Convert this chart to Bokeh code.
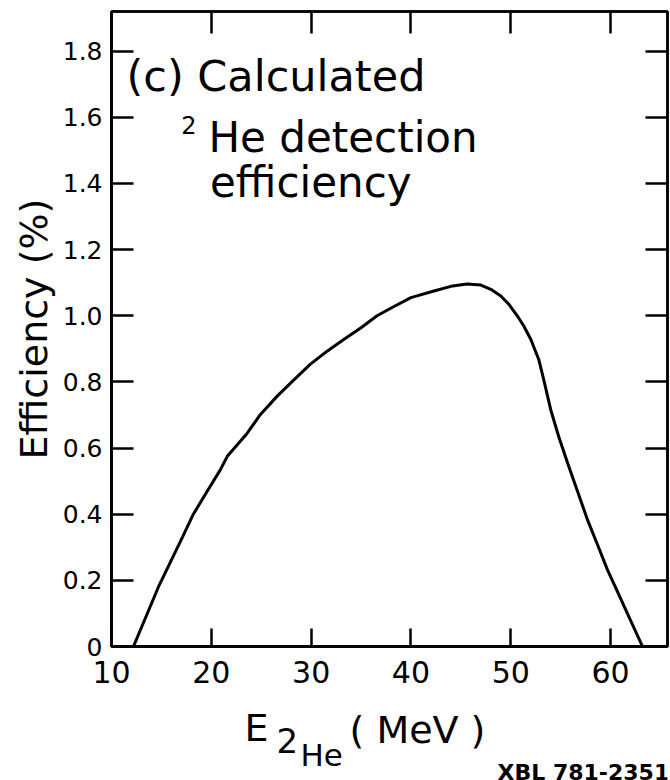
from bokeh.plotting import figure
from bokeh.models import LinearAxis, FixedTicker, Range1d
from bokeh.layouts import column
from bokeh.core.properties import value
from bokeh.embed import file_html
from bokeh.resources import INLINE

# Data
energy_mev = [12.2, 14.7, 17.1, 18.2, 19.6, 20.9, 21.6, 23.6, 24.9, 26.6, 28.3,
              29.9, 31.6, 33.3, 35.0, 36.6, 38.3, 40.0, 40.6, 42.3, 44.0, 45.6,
              47.0, 48.0, 49.0, 49.8, 50.65, 51.3, 52.0, 52.8, 53.3, 54.0, 54.8,
              55.7, 56.7, 57.7, 58.7, 59.7, 60.7, 61.7, 63.2]
efficiency_pct = [0.0, 0.18, 0.33, 0.40, 0.47, 0.534, 0.575, 0.645, 0.701, 0.757,
                  0.807, 0.853, 0.893, 0.929, 0.964, 1.0, 1.028, 1.055, 1.06, 1.075,
                  1.089, 1.096, 1.093, 1.08, 1.06, 1.035, 1.0, 0.969, 0.929, 0.868,
                  0.807, 0.716, 0.635, 0.554, 0.468, 0.382, 0.307, 0.231, 0.165,
                  0.099, 0.0]

x_ticks = [10, 20, 30, 40, 50, 60]
y_ticks = [0, 0.2, 0.4, 0.6, 0.8, 1.0, 1.2, 1.4, 1.6, 1.8]
y_tick_labels = ["0", "0.2", "0.4", "0.6", "0.8", "1.0", "1.2", "1.4", "1.6", "1.8"]

FONT = "DejaVu Sans"
X_RANGE = (10, 65.7)
Y_RANGE = (0, 1.92)
LEFT, RIGHT, TOP, BOTTOM = 111, 3, 11, 54

p = figure(width=670, height=700, output_backend="svg", toolbar_location=None,
           x_range=Range1d(*X_RANGE), y_range=Range1d(*Y_RANGE),
           x_axis_type=None, y_axis_type=None,
           min_border_left=LEFT, min_border_right=RIGHT, min_border_top=TOP,
           min_border_bottom=BOTTOM)
p.grid.visible = False
p.background_fill_color = "white"
p.border_fill_color = "white"
p.outline_line_color = "black"
p.outline_line_width = 2.5


def tick_axis(ticks, length):
    """Axis that only draws inward ticks along the frame edge."""
    ax = LinearAxis(ticker=FixedTicker(ticks=ticks))
    ax.major_tick_in = length
    ax.major_tick_out = 0
    ax.minor_tick_line_color = None
    ax.major_tick_line_width = 2.5
    ax.major_tick_line_color = "black"
    ax.axis_line_color = "black"
    ax.axis_line_width = 2.5
    ax.major_label_overrides = {t: "" for t in ticks}
    ax.major_label_text_font_size = "1px"
    ax.major_label_standoff = 0
    ax.axis_label_standoff = 0
    return ax


def label_axis(ticks, size, standoff, overrides=None):
    """Axis that carries the tick labels."""
    ax = LinearAxis(ticker=FixedTicker(ticks=ticks))
    ax.major_tick_in = 0
    ax.major_tick_out = 0
    ax.major_tick_line_color = None
    ax.minor_tick_line_color = None
    ax.axis_line_color = "black"
    ax.axis_line_width = 2.5
    ax.major_label_text_font = FONT
    ax.major_label_text_font_size = size
    ax.major_label_text_color = "black"
    ax.major_label_standoff = standoff
    if overrides:
        ax.major_label_overrides = overrides
    return ax


p.add_layout(tick_axis(y_ticks, 22), "left")
ylab = label_axis(y_ticks, "25px", 9,
                  {t: s for t, s in zip(y_ticks, y_tick_labels)})
ylab.axis_label = "Efficiency (%)"
ylab.axis_label_text_font = FONT
ylab.axis_label_text_font_size = "38px"
ylab.axis_label_text_font_style = "normal"
ylab.axis_label_text_color = "black"
ylab.axis_label_standoff = 4
p.add_layout(ylab, "left")
p.add_layout(tick_axis(x_ticks, 18), "below")
p.add_layout(label_axis(x_ticks, "30px", 14), "below")
p.add_layout(tick_axis(y_ticks[1:], 22), "right")
p.add_layout(tick_axis(x_ticks[1:], 22), "above")

p.line(energy_mev, efficiency_pct, line_color="black", line_width=3)


def note(fig, txt, x, y, size, style="normal"):
    fig.text(x=[x], y=[y], text=[txt], text_font=value(FONT),
             text_font_size=value(size), text_color="black",
             text_baseline="alphabetic", text_align="left",
             text_font_style=style)


# annotation inside the frame (data coordinates)
note(p, "(c) Calculated", 11.5, 1.725, "43px")
note(p, "2", 17.0, 1.576, "24px")
note(p, "He detection", 19.72, 1.540, "42px")
note(p, "efficiency", 19.87, 1.404, "42px")

# strip below the chart holding the x-axis title and the plate number
q = figure(width=670, height=80, output_backend="svg", toolbar_location=None,
           x_range=Range1d(*X_RANGE), y_range=Range1d(0, 80),
           x_axis_type=None, y_axis_type=None,
           min_border_left=LEFT, min_border_right=RIGHT, min_border_top=0,
           min_border_bottom=0)
q.grid.visible = False
q.outline_line_color = None
q.background_fill_color = "white"
q.border_fill_color = "white"

note(q, "E", 23.32, 53, "38px")
note(q, "2", 26.53, 39.6, "34px")
note(q, "He", 28.93, 25.3, "31px")
note(q, "( MeV )", 33.84, 51, "38px")
note(q, "XBL 781-2351", 48.67, 8.5, "22px", "bold")

layout = column(p, q, spacing=0)
open("out.html", "w").write(file_html(layout, INLINE))
